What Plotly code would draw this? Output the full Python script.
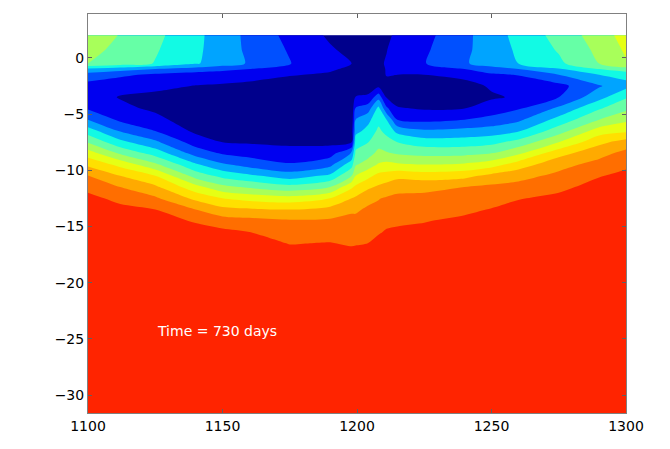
import plotly.graph_objects as go

x_values = [1100, 1112, 1125, 1140, 1150, 1160, 1175, 1190, 1198, 1199.5, 1204, 1208, 1211, 1215, 1225, 1240, 1250, 1260, 1275, 1290, 1300]
y_values = [2, 0.75, -0.5, -1, -1.5, -2.5, -3.5, -4.5, -5.5, -6.5, -7.5, -8.5, -9.5, -10.5, -11.5, -12.5, -13.5, -14.5, -15.5, -16.5, -17.5, -31.6]

# field values, one list per x position, top row first
field_by_x = [
    [6.6, 6.3, 6.0, 3.75, 2.6, 1.6, 1.4, 1.9, 3.0, 4.5, 5.9, 7.5, 8.8, 10.05, 10.7, 11.3, 11.6, 11.8, 11.9, 11.9, 11.9, 11.9],
    [5.95, 5.75, 5.55, 3.4, 2.2, 1.3, 0.95, 1.2, 1.8, 2.9, 4.3, 5.85, 7.7, 9.0, 10.0, 10.7, 11.3, 11.6, 11.8, 11.9, 11.9, 11.9],
    [5.25, 5.1, 4.95, 3.0, 1.8, 1.2, 0.8, 0.85, 1.25, 2.0, 3.2, 4.6, 6.2, 8.0, 9.2, 10.15, 11.0, 11.4, 11.7, 11.9, 11.9, 11.9],
    [4.25, 4.2, 4.1, 2.6, 1.5, 0.97, 0.5, 0.4, 0.5, 0.8, 1.55, 2.6, 4.15, 5.6, 7.35, 8.75, 10.0, 10.9, 11.4, 11.7, 11.9, 11.9],
    [3.5, 3.5, 3.5, 2.3, 1.4, 0.9, 0.4, 0.3, 0.35, 0.55, 1.0, 1.9, 3.15, 4.7, 6.3, 8.0, 9.3, 10.45, 11.25, 11.6, 11.85, 11.9],
    [2.75, 2.8, 2.9, 2.0, 1.3, 0.8, 0.35, 0.25, 0.3, 0.5, 0.9, 1.65, 2.6, 4.2, 5.85, 7.65, 9.15, 10.3, 11.0, 11.5, 11.8, 11.9],
    [1.7, 1.9, 2.05, 1.5, 1.05, 0.65, 0.3, 0.2, 0.25, 0.45, 0.8, 1.4, 2.1, 3.5, 5.35, 7.4, 9.0, 10.1, 10.5, 10.95, 11.4, 11.9],
    [0.85, 1.1, 1.35, 1.1, 0.9, 0.6, 0.3, 0.2, 0.25, 0.45, 0.75, 1.6, 2.7, 4.2, 6.0, 8.0, 9.35, 10.15, 10.5, 11.05, 11.4, 11.9],
    [0.55, 0.75, 1.0, 0.85, 0.75, 0.5, 0.3, 0.2, 0.25, 0.45, 1.0, 3.1, 4.6, 6.0, 7.85, 9.0, 9.85, 10.25, 10.5, 10.85, 11.4, 11.9],
    [0.5, 0.6, 0.75, 0.65, 0.55, 0.4, 1.05, 2.1, 3.0, 3.7, 4.5, 5.2, 5.9, 7.0, 8.2, 9.15, 9.85, 10.25, 10.6, 10.9, 11.4, 11.9],
    [0.55, 0.6, 0.7, 0.6, 0.5, 0.4, 1.2, 2.5, 3.7, 4.3, 4.95, 5.6, 6.45, 7.7, 8.8, 9.7, 10.15, 10.5, 10.75, 11.0, 11.5, 11.9],
    [0.8, 0.85, 0.9, 0.75, 0.65, 0.8, 2.6, 4.3, 4.7, 5.2, 5.65, 6.25, 7.1, 8.3, 9.15, 9.95, 10.25, 10.6, 10.9, 11.3, 11.6, 11.9],
    [0.9, 0.98, 1.05, 1.05, 1.05, 0.7, 0.9, 2.2, 4.0, 4.7, 5.4, 6.1, 7.3, 8.4, 9.4, 10.1, 10.45, 10.75, 11.1, 11.4, 11.7, 11.9],
    [1.1, 1.25, 1.4, 1.2, 1.0, 0.5, 0.5, 1.1, 2.0, 3.7, 5.0, 5.9, 7.15, 8.7, 9.7, 10.2, 10.5, 10.85, 11.15, 11.5, 11.75, 11.9],
    [1.7, 1.85, 1.95, 1.5, 1.0, 0.45, 0.35, 0.9, 1.75, 3.15, 4.5, 5.7, 7.0, 8.5, 9.75, 10.25, 10.6, 10.95, 11.25, 11.5, 11.75, 11.9],
    [2.75, 2.8, 2.9, 2.0, 1.25, 0.7, 0.55, 1.0, 2.0, 3.3, 4.5, 5.75, 7.15, 8.7, 10.0, 10.4, 10.8, 11.2, 11.5, 11.7, 11.9, 11.9],
    [3.55, 3.5, 3.45, 2.6, 1.85, 1.1, 0.9, 1.4, 2.35, 3.45, 4.7, 6.0, 7.55, 9.3, 10.2, 10.65, 11.05, 11.4, 11.6, 11.8, 11.9, 11.9],
    [4.3, 4.15, 4.0, 3.0, 2.05, 1.3, 1.1, 1.9, 2.8, 3.9, 5.35, 6.85, 8.5, 9.65, 10.35, 10.95, 11.3, 11.5, 11.7, 11.9, 11.9, 11.9],
    [5.35, 5.1, 4.8, 3.9, 3.0, 1.7, 2.0, 3.2, 4.35, 5.55, 7.0, 8.65, 9.65, 10.25, 10.8, 11.2, 11.45, 11.6, 11.75, 11.9, 11.9, 11.9],
    [6.5, 6.25, 6.0, 5.0, 4.0, 2.9, 3.65, 4.9, 6.0, 7.5, 8.75, 9.65, 10.35, 10.95, 11.3, 11.55, 11.7, 11.85, 11.9, 11.9, 11.9, 11.9],
    [7.4, 7.15, 6.9, 5.6, 4.3, 3.7, 4.9, 5.75, 6.8, 7.8, 9.4, 10.3, 10.85, 11.2, 11.45, 11.6, 11.75, 11.85, 11.9, 11.9, 11.9, 11.9],
]
z_rows = [list(row) for row in zip(*field_by_x)]

band_colors = ["#00008c", "#0000f0", "#0050ff", "#00a4ff", "#12fae4", "#66ffa6",
               "#a8ff5a", "#e6ff14", "#ffe000", "#ffaa00", "#ff6e00", "#ff2400"]
x_ticks = [1100, 1150, 1200, 1250, 1300]
y_ticks = [0, -5, -10, -15, -20, -25, -30]
y_tick_labels = ["0", "−5", "−10", "−15", "−20", "−25", "−30"]

n = len(band_colors)
scale = []
for i, c in enumerate(band_colors):
    scale.append([i / n, c])
    scale.append([(i + 1) / n, c])

fig = go.Figure(go.Contour(
    x=x_values, y=y_values, z=z_rows,
    zmin=0, zmax=n, colorscale=scale, showscale=False, hoverinfo="skip",
    contours=dict(start=0, end=n, size=1, coloring="fill", showlines=False),
    line=dict(width=0, smoothing=0.8),
))
fig.add_annotation(x=1125, y=-24.3, text="Time = 730 days", showarrow=False, xanchor="left",
                   font=dict(family="DejaVu Sans", size=14, color="#ffffff"))
axis_style = dict(showgrid=False, zeroline=False, showline=True, linecolor="#808080", linewidth=1,
                  mirror="ticks", ticks="inside", ticklen=4, tickcolor="#606060",
                  tickfont=dict(family="DejaVu Sans", size=14, color="#000000"))
fig.update_xaxes(range=[1100, 1300], tickvals=x_ticks, ticktext=[str(t) for t in x_ticks], **axis_style)
fig.update_yaxes(range=[-31.6, 3.9], tickvals=y_ticks, ticktext=y_tick_labels, **axis_style)
fig.update_layout(width=662, height=441, margin=dict(l=80, r=44, t=6, b=36),
                  paper_bgcolor="white", plot_bgcolor="white", showlegend=False)
fig.write_html("out.html")
